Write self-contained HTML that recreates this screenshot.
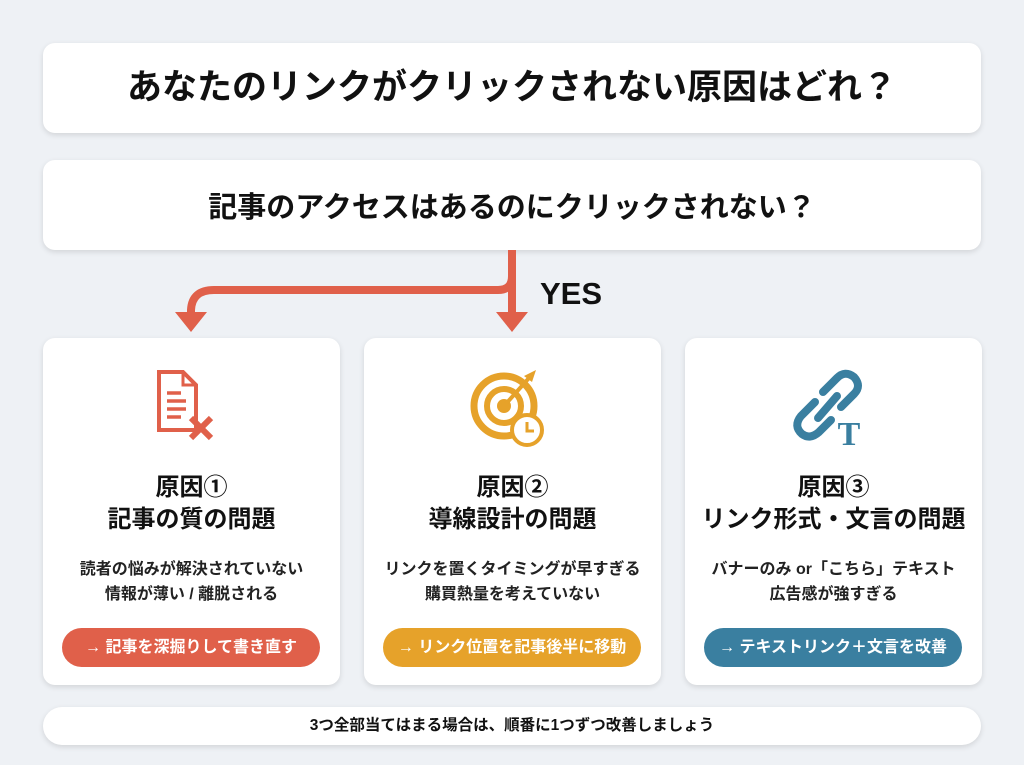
<!DOCTYPE html>
<html><head><meta charset="utf-8"><style>
*{margin:0;padding:0;box-sizing:border-box}
body{width:1024px;height:765px;background:#eef1f5;position:relative;overflow:hidden;font-family:"Liberation Sans","Noto Sans CJK JP",sans-serif;color:#111}
.box{position:absolute;background:#fff;border-radius:12px;box-shadow:0 2px 6px rgba(0,0,0,.12);text-align:center}
.t{font-weight:bold}
.card{top:338px;width:297px;height:347px}
.ic{position:absolute;left:0;top:22px;width:100%;height:90px}
.h{position:absolute;top:134px;width:100%;font-size:24px;font-weight:bold;line-height:32px}
.d{position:absolute;top:219px;width:100%;font-size:16px;font-weight:bold;line-height:25px;color:#222}
.btn{position:absolute;top:290px;left:19px;width:258px;height:39px;border-radius:20px;color:#fff;font-size:16px;font-weight:bold;line-height:39px}
</style></head><body>
<div class="box t" style="left:43px;top:43px;width:938px;height:90px;font-size:35px;line-height:90px">あなたのリンクがクリックされない原因はどれ？</div>
<div class="box t" style="left:43px;top:160px;width:938px;height:90px;font-size:29px;line-height:96px">記事のアクセスはあるのにクリックされない？</div>
<svg style="position:absolute;left:0;top:0" width="1024" height="340">
<g stroke="#e0604a" stroke-width="8" fill="none">
<path d="M512 250 V315"/>
<path d="M512 276 Q512 290 498 290 H214 Q192 290 191 310 V315"/>
</g>
<polygon points="496,312 528,312 512,332" fill="#e0604a"/>
<polygon points="175,312 207,312 191,332" fill="#e0604a"/>
<text x="540" y="304" font-family="Liberation Sans" font-weight="bold" font-size="31" fill="#111">YES</text>
</svg>
<div class="box card" style="left:43px">
<svg class="ic" viewBox="0 0 297 90">
<path d="M116 12 H140 L153 25 V70 H116 Z" fill="none" stroke="#e0604a" stroke-width="4"/>
<path d="M140 12 V25 H153" fill="none" stroke="#e0604a" stroke-width="3"/>
<g stroke="#e0604a" stroke-width="3.5"><line x1="124" y1="33" x2="138" y2="33"/><line x1="124" y1="41" x2="143" y2="41"/><line x1="124" y1="49" x2="143" y2="49"/><line x1="124" y1="57" x2="138" y2="57"/></g>
<g stroke="#e0604a" stroke-width="6"><line x1="148" y1="58" x2="168" y2="78"/><line x1="168" y1="58" x2="148" y2="78"/></g>
</svg>
<div class="h">原因①<br>記事の質の問題</div>
<div class="d">読者の悩みが解決されていない<br>情報が薄い / 離脱される</div>
<div class="btn" style="background:#e0604a">→ 記事を深掘りして書き直す</div>
</div>
<div class="box card" style="left:364px">
<svg class="ic" viewBox="0 0 297 90">
<g fill="none" stroke="#e6a22a">
<circle cx="140" cy="46" r="30" stroke-width="7"/>
<circle cx="140" cy="46" r="17" stroke-width="6"/>
</g>
<circle cx="140" cy="46" r="7" fill="#e6a22a"/>
<line x1="140" y1="46" x2="165" y2="18" stroke="#e6a22a" stroke-width="4"/>
<polygon points="160,16 172,10 168,22" fill="#e6a22a"/>
<circle cx="163" cy="70" r="15" fill="#fff" stroke="#e6a22a" stroke-width="4"/>
<path d="M163 62 V71 H170" fill="none" stroke="#e6a22a" stroke-width="3"/>
</svg>
<div class="h">原因②<br>導線設計の問題</div>
<div class="d">リンクを置くタイミングが早すぎる<br>購買熱量を考えていない</div>
<div class="btn" style="background:#e6a22a">→ リンク位置を記事後半に移動</div>
</div>
<div class="box card" style="left:685px">
<svg class="ic" viewBox="0 0 297 90">
<g fill="none" stroke="#3a7fa0" stroke-width="8" stroke-linecap="round">
<path d="M130 42 L116 56 Q108 66 117 74 Q125 80 134 72 L146 60"/>
<path d="M138 32 L152 18 Q160 10 169 17 Q177 26 169 34 L156 47"/>
<line x1="133" y1="58" x2="152" y2="36"/>
</g>
<text x="164" y="85" font-family="Liberation Serif" font-weight="bold" font-size="34" fill="#3a7fa0" text-anchor="middle">T</text>
</svg>
<div class="h">原因③<br>リンク形式・文言の問題</div>
<div class="d">バナーのみ or「こちら」テキスト<br>広告感が強すぎる</div>
<div class="btn" style="background:#3a7fa0">→ テキストリンク＋文言を改善</div>
</div>
<div class="box t" style="left:43px;top:707px;width:938px;height:38px;border-radius:19px;font-size:15.5px;line-height:38px">3つ全部当てはまる場合は、順番に1つずつ改善しましょう</div>
</body></html>
